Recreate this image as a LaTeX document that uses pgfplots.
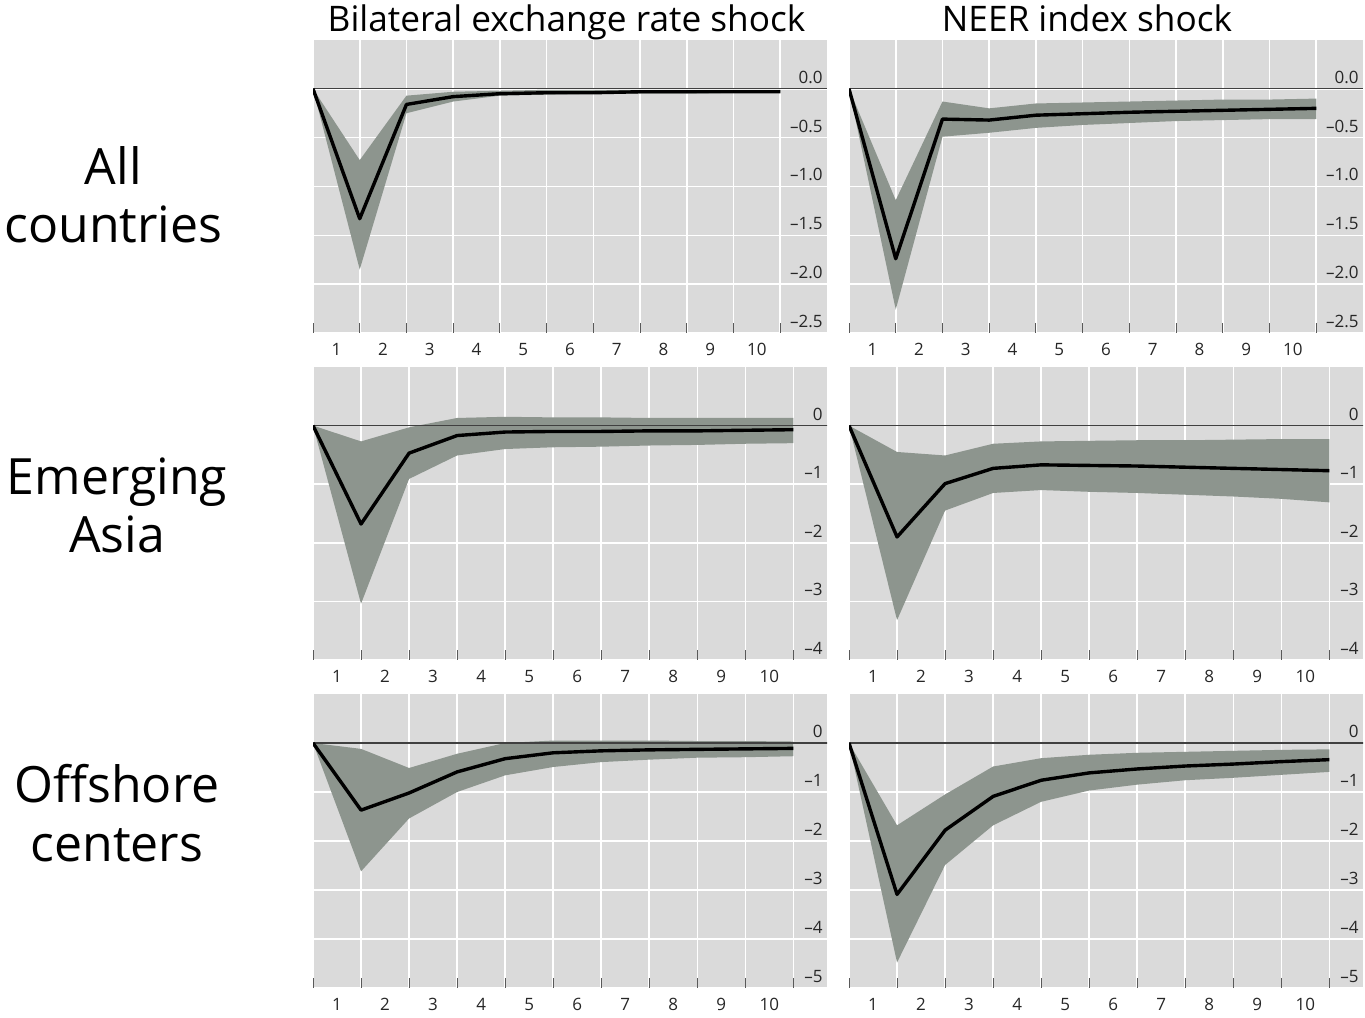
\documentclass[border=0pt]{standalone}
\usepackage{fontspec}
\setmainfont{Open Sans}
\usepackage{pgfplots}
\pgfplotsset{compat=1.18}
\usepackage{pgfplotstable}
\usepgfplotslibrary{fillbetween}

\definecolor{bgc}{RGB}{218,218,218}
\definecolor{bandc}{RGB}{141,149,142}

% All countries, bilateral
\pgfplotstableread{
x mid lo hi
0.5 0 0 0
1.5 -1.33 -1.85 -0.73
2.5 -0.16 -0.25 -0.07
3.5 -0.08 -0.13 -0.03
4.5 -0.05 -0.07 -0.02
5.5 -0.04 -0.06 -0.01
6.5 -0.04 -0.05 -0.01
7.5 -0.03 -0.05 -0.01
8.5 -0.03 -0.05 -0.01
9.5 -0.03 -0.04 -0.01
10.5 -0.03 -0.04 -0.01
}\tA
% All countries, NEER
\pgfplotstableread{
x mid lo hi
0.5 0 0 0
1.5 -1.74 -2.26 -1.14
2.5 -0.31 -0.49 -0.13
3.5 -0.32 -0.45 -0.20
4.5 -0.27 -0.40 -0.15
5.5 -0.255 -0.37 -0.14
6.5 -0.24 -0.35 -0.13
7.5 -0.23 -0.33 -0.12
8.5 -0.22 -0.32 -0.11
9.5 -0.21 -0.31 -0.11
10.5 -0.20 -0.31 -0.10
}\tB
% Emerging Asia, bilateral
\pgfplotstableread{
x mid lo hi
0.5 0 0 0
1.5 -1.68 -3.04 -0.27
2.5 -0.47 -0.91 -0.03
3.5 -0.17 -0.51 0.13
4.5 -0.11 -0.40 0.15
5.5 -0.10 -0.37 0.14
6.5 -0.10 -0.36 0.14
7.5 -0.09 -0.34 0.13
8.5 -0.09 -0.33 0.13
9.5 -0.08 -0.31 0.13
10.5 -0.07 -0.30 0.13
}\tC
% Emerging Asia, NEER
\pgfplotstableread{
x mid lo hi
0.5 0 0 0
1.5 -1.90 -3.32 -0.45
2.5 -0.99 -1.45 -0.51
3.5 -0.73 -1.15 -0.31
4.5 -0.67 -1.10 -0.27
5.5 -0.68 -1.13 -0.26
6.5 -0.69 -1.15 -0.25
7.5 -0.71 -1.18 -0.25
8.5 -0.73 -1.21 -0.24
9.5 -0.75 -1.25 -0.23
10.5 -0.77 -1.31 -0.23
}\tD
% Offshore centers, bilateral
\pgfplotstableread{
x mid lo hi
0.5 0 0 0
1.5 -1.37 -2.62 -0.12
2.5 -1.02 -1.54 -0.51
3.5 -0.59 -1.00 -0.22
4.5 -0.32 -0.66 0.00
5.5 -0.20 -0.49 0.05
6.5 -0.16 -0.39 0.05
7.5 -0.14 -0.34 0.05
8.5 -0.13 -0.30 0.04
9.5 -0.12 -0.29 0.04
10.5 -0.11 -0.27 0.03
}\tE
% Offshore centers, NEER
\pgfplotstableread{
x mid lo hi
0.5 0 0 0
1.5 -3.09 -4.48 -1.68
2.5 -1.78 -2.49 -1.05
3.5 -1.09 -1.68 -0.48
4.5 -0.76 -1.20 -0.31
5.5 -0.61 -0.97 -0.24
6.5 -0.53 -0.85 -0.20
7.5 -0.47 -0.76 -0.18
8.5 -0.43 -0.71 -0.16
9.5 -0.38 -0.65 -0.14
10.5 -0.34 -0.59 -0.13
}\tF

\pgfplotsset{
  irf/.style={
    scale only axis, width=257pt, anchor=south west,
    xmin=0.5, xmax=11.5,
    axis background/.style={fill=bgc},
    axis line style={draw=none},
    xtick={1,...,10},
    minor xtick={0.5,1.5,...,10.5},
    xminorgrids=true, xmajorgrids=false, ymajorgrids=true,
    minor x grid style={white, line width=0.8pt},
    major y grid style={white, line width=0.8pt},
    major tick length=0pt, minor tick length=5pt,
    tick align=inside,
    xtick pos=bottom, ytick pos=right, yticklabel pos=right,
    minor tick style={black!65, line width=0.5pt},
    tick label style={font=\fontsize{8.5}{10}\selectfont, text=black!85},
    /pgf/number format/assume math mode=true,
    xticklabel style={yshift=-1.7pt},
    yticklabel style={anchor=south east, inner sep=0pt, xshift=-2pt, yshift=2.5pt},
  },
  row1/.style={irf, height=146.5pt, ymin=-2.5, ymax=0.5,
    ytick={0,-0.5,-1,-1.5,-2,-2.5},
    yticklabels={0.0,\textendash0.5,\textendash1.0,\textendash1.5,\textendash2.0,\textendash2.5}},
  row2/.style={irf, height=146.5pt, ymin=-4, ymax=1, xmax=11.2,
    ytick={0,-1,-2,-3,-4},
    yticklabels={0,\textendash1,\textendash2,\textendash3,\textendash4}},
  row3/.style={irf, height=147pt, ymin=-5, ymax=1, xmax=11.2,
    ytick={0,-1,-2,-3,-4,-5},
    yticklabels={0,\textendash1,\textendash2,\textendash3,\textendash4,\textendash5}},
}

\newcommand{\irfplots}[1]{%
  \addplot[name path=hi, draw=none, forget plot] table[x=x, y=hi] {#1};
  \addplot[name path=lo, draw=none, forget plot] table[x=x, y=lo] {#1};
  \addplot[fill=bandc, draw=none, forget plot] fill between[of=hi and lo];
  \addplot[black!75, line width=0.6pt, forget plot] coordinates {(0.5,0) (11.5,0)};
  \addplot[black, line width=1.7pt, line join=round, forget plot] table[x=x, y=mid] {#1};
}

\begin{document}
\begin{tikzpicture}
\path (0,0) rectangle (682.5pt,508.5pt);

% column titles (drawn first, panels overlap descenders)
\node[anchor=base, font=\fontsize{17.6}{21}\selectfont, inner sep=0pt] at (283.25pt,492.5pt) {Bilateral exchange rate shock};
\node[anchor=base, font=\fontsize{17.6}{21}\selectfont, inner sep=0pt] at (543.5pt,492.5pt) {NEER index shock};

% row labels
\begin{scope}[every node/.style={anchor=base, inner sep=0pt, font=\fontsize{25}{30}\selectfont}]
\node at (56.7pt,416pt) {All};
\node at (56.7pt,387pt) {countries};
\node at (58.5pt,261pt) {Emerging};
\node at (58.5pt,232pt) {Asia};
\node at (58.5pt,107pt) {Offshore};
\node at (58.5pt,77.5pt) {centers};
\end{scope}

\begin{axis}[row1, at={(156.5pt,342pt)}]
\irfplots{\tA}
\end{axis}
\begin{axis}[row1, at={(424.5pt,342pt)}]
\irfplots{\tB}
\end{axis}

\begin{axis}[row2, at={(156.5pt,178.5pt)}]
\irfplots{\tC}
\end{axis}
\begin{axis}[row2, at={(424.5pt,178.5pt)}]
\irfplots{\tD}
\end{axis}

\begin{axis}[row3, at={(156.5pt,14.5pt)}]
\irfplots{\tE}
\end{axis}
\begin{axis}[row3, at={(424.5pt,14.5pt)}]
\irfplots{\tF}
\end{axis}
\end{tikzpicture}
\end{document}
